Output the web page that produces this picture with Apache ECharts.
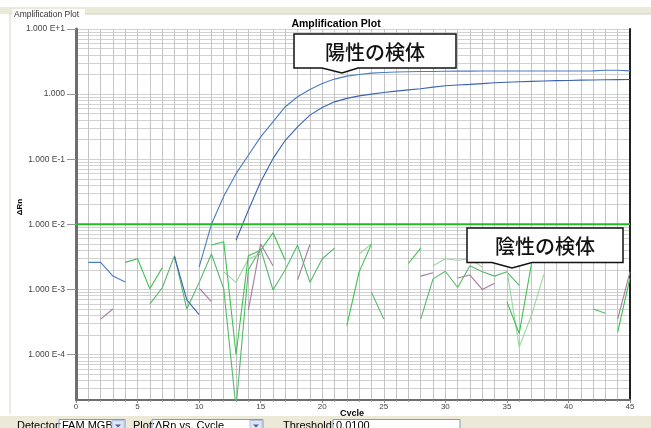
<!DOCTYPE html>
<html>
<head>
<meta charset="utf-8">
<script src="https://cdn.jsdelivr.net/npm/echarts@6/dist/echarts.min.js"></script>
<style>
  html, body { margin: 0; padding: 0; background: #ffffff; }
  #chart { width: 651px; height: 428px; }
</style>
</head>
<body>
<div id="chart"></div>
<script>
// PCR cycles (x axis)
const cycles = [1, 2, 3, 4, 5, 6, 7, 8, 9, 10, 11, 12, 13, 14, 15, 16, 17, 18, 19, 20,
  21, 22, 23, 24, 25, 26, 27, 28, 29, 30, 31, 32, 33, 34, 35, 36, 37, 38, 39, 40,
  41, 42, 43, 44, 45];

// ΔRn per cycle; null = no positive value (nothing drawn on a log axis)
const positiveA = [2.6e-3, 2.6e-3, 1.6e-3, 1.3e-3, null, null, null, null, null, 2.2e-3,
  0.010, 0.027, 0.060, 0.115, 0.22, 0.375, 0.64, 0.91, 1.18, 1.46,
  1.70, 1.89, 2.00, 2.10, 2.15, 2.18, 2.20, 2.22, 2.23, 2.24,
  2.25, 2.25, 2.26, 2.26, 2.26, 2.26, 2.26, 2.26, 2.26, 2.26,
  2.26, 2.27, 2.32, 2.33, 2.27];

const positiveB = [null, null, null, null, null, null, null, 3.2e-3, 6.9e-4, 4.1e-4,
  null, null, 5.7e-3, 0.0164, 0.045, 0.102, 0.195, 0.314, 0.475, 0.624,
  0.76, 0.86, 0.94, 1.00, 1.06, 1.11, 1.16, 1.21, 1.28, 1.34,
  1.38, 1.41, 1.45, 1.49, 1.52, 1.55, 1.57, 1.59, 1.61, 1.62,
  1.64, 1.65, 1.66, 1.67, 1.68];

const negative1 = [null, null, null, 2.6e-3, 2.96e-3, 1.02e-3, 2.15e-3, null, null, null,
  4.8e-3, 5.4e-3, 1.0e-4, 3.3e-3, 4.0e-3, 7.4e-3, 2.8e-3, null, null, null,
  null, 2.8e-4, 1.86e-3, 5.0e-3, null, null, 2.5e-3, 4.3e-3, null, null,
  null, null, null, null, 6.5e-4, 2.1e-4, 2.5e-3, null, null, null,
  null, null, null, 2.2e-4, 1.5e-3];

const negative2 = [null, null, null, null, null, 6.0e-4, 1.05e-3, 3.3e-3, 5.0e-4, 1.27e-3,
  3.5e-3, 1.02e-3, 1.5e-5, 2.0e-3, 4.2e-3, 9.8e-4, 2.0e-3, 4.8e-3, 1.28e-3, 2.96e-3,
  4.3e-3, null, null, 9.0e-4, 3.5e-4, null, null, 3.5e-4, 1.45e-3, 1.9e-3,
  1.07e-3, 2.3e-3, 1.86e-3, 1.6e-3, 1.86e-3, 1.15e-3, null, null, null, null,
  null, 5.0e-4, 4.3e-4, null, null];

const negative3 = [null, null, null, null, null, null, null, null, null, null,
  null, 1.86e-3, 1.28e-3, 2.96e-3, 3.5e-3, null, null, null, null, null,
  null, null, 3.5e-3, 5.0e-3, null, null, null, null, 2.3e-3, 2.96e-3,
  2.8e-3, 2.96e-3, 2.2e-3, null, 2.0e-3, 1.3e-4, 4.0e-4, 1.7e-3, null, null,
  null, null, null, null, null];

const negative4 = [null, 3.5e-4, 5.0e-4, null, null, null, null, null, null, 1.05e-3,
  6.5e-4, null, null, 4.8e-4, 5.0e-3, 2.3e-3, null, 1.4e-3, 4.9e-3, null,
  null, null, null, null, null, null, null, 1.6e-3, 1.8e-3, null,
  1.5e-3, 1.66e-3, 1.0e-3, 1.24e-3, null, null, null, null, null, null,
  null, null, null, 3.5e-4, 1.86e-3];

const threshold = 0.0100;

// axis ticks
const yDecades = [1e-4, 1e-3, 1e-2, 1e-1, 1, 10];
const yMin = 2e-5;
const yMax = 10;
const xMax = 45;
const xStep = 5;

const log10 = v => Math.log10(v);

// every horizontal grid line of the log scale: 1..9 × 10^n
const yGridValues = [];
for (let e = -5; e <= 1; e++) {
  for (let k = 1; k <= 9; k++) {
    const v = log10(k * Math.pow(10, e));
    if (v >= log10(yMin) - 1e-9 && v <= log10(yMax) + 1e-9) yGridValues.push(v);
  }
}

function pairs(values) {
  return cycles.map((c, i) => [c, values[i] == null ? '-' : log10(values[i])]);
}

function decadeLabel(v) {
  const e = Math.round(v);
  if (e === 0) return '1.000';
  return '1.000 E' + (e > 0 ? '+' + e : String(e));
}

const curves = [
  { name: 'negative2', data: negative2, color: '#56b86c' },
  { name: 'negative3', data: negative3, color: '#97d8a0' },
  { name: 'negative4', data: negative4, color: '#a77a9e' },
  { name: 'negative1', data: negative1, color: '#3cc24e' },
  { name: 'positiveB', data: positiveB, color: '#3a64b2' },
  { name: 'positiveA', data: positiveA, color: '#4a7cc2' }
];

const series = curves.map(c => ({
  name: c.name,
  type: 'line',
  xAxisIndex: 0,
  yAxisIndex: 0,
  data: pairs(c.data),
  symbol: 'none',
  connectNulls: false,
  clip: true,
  lineStyle: { color: c.color, width: 1.1 },
  animation: false,
  silent: true
}));

series.push({
  name: 'threshold',
  type: 'line',
  xAxisIndex: 0,
  yAxisIndex: 0,
  data: [[0, log10(threshold)], [xMax, log10(threshold)]],
  symbol: 'none',
  lineStyle: { color: '#22bb22', width: 2 },
  animation: false,
  silent: true,
  z: 5
});

const uiFont = '"Liberation Sans", Arial, sans-serif';

function callout(x0, x1, y0, y1, nl, tipX, nr, tipY, text) {
  return [
    {
      type: 'polygon',
      shape: { points: [[x0, y0], [x1, y0], [x1, y1], [nr, y1], [tipX, tipY], [nl, y1], [x0, y1]] },
      style: { fill: '#ffffff', stroke: '#111111', lineWidth: 1.5 },
      z: 100
    },
    {
      type: 'text',
      x: (x0 + x1) / 2, y: (y0 + y1) / 2 + 1,
      style: {
        text: text, fill: '#111111',
        font: '500 20px "Noto Sans CJK JP", sans-serif',
        textAlign: 'center', textVerticalAlign: 'middle'
      },
      z: 101
    }
  ];
}

function dropField(x0, x1, label, arrow) {
  const out = [
    { type: 'rect', shape: { x: x0, y: 419.5, width: x1 - x0, height: 14 },
      style: { fill: '#ffffff', stroke: '#7f9db9', lineWidth: 1 }, z: 50 },
    { type: 'text', x: x0 + 3, y: 420,
      style: { text: label, fill: '#000000', font: '11px ' + uiFont, textVerticalAlign: 'top' }, z: 51 }
  ];
  if (arrow) {
    out.push({ type: 'rect', shape: { x: x1 - 13, y: 420.5, width: 12, height: 12 },
      style: { fill: '#dde6f7', stroke: '#b0c0e0', lineWidth: 1 }, z: 51 });
    out.push({ type: 'polygon', shape: { points: [[x1 - 10, 424.5], [x1 - 4, 424.5], [x1 - 7, 427.5]] },
      style: { fill: '#4d6185' }, z: 52 });
  }
  return out;
}

const graphics = [
  // window chrome
  { type: 'rect', shape: { x: 0, y: 7, width: 651, height: 7 }, style: { fill: '#ece9d8' }, z: -10 },
  { type: 'line', shape: { x1: 10, y1: 14, x2: 651, y2: 14 }, style: { stroke: '#d0d0bf', lineWidth: 1 }, z: -9 },
  { type: 'line', shape: { x1: 10, y1: 14, x2: 10, y2: 414 }, style: { stroke: '#d8d8cc', lineWidth: 1 }, z: -9 },
  { type: 'rect', shape: { x: 12, y: 9, width: 73, height: 10 }, style: { fill: '#ffffff' }, z: -8 },
  { type: 'text', x: 14, y: 14.5,
    style: { text: 'Amplification Plot', fill: '#333333', font: '8.5px ' + uiFont, textVerticalAlign: 'middle' }, z: 2 },
  { type: 'text', x: 336, y: 24.5,
    style: { text: 'Amplification Plot', fill: '#000000', font: 'bold 10.5px ' + uiFont,
      textAlign: 'center', textVerticalAlign: 'middle' }, z: 2 },
  { type: 'text', x: 20, y: 207, rotation: Math.PI / 2,
    style: { text: 'ΔRn', fill: '#000000', font: 'bold 8px ' + uiFont,
      textAlign: 'center', textVerticalAlign: 'middle' }, z: 2 },
  { type: 'text', x: 352, y: 414,
    style: { text: 'Cycle', fill: '#000000', font: 'bold 9px ' + uiFont,
      textAlign: 'center', textVerticalAlign: 'middle' }, z: 2 },
  // control bar
  { type: 'rect', shape: { x: 0, y: 416, width: 651, height: 12 }, style: { fill: '#ece9d8' }, z: 40 },
  { type: 'text', x: 17, y: 420,
    style: { text: 'Detector:', fill: '#000000', font: '11px ' + uiFont, textVerticalAlign: 'top' }, z: 51 },
  ...dropField(59, 125, 'FAM MGB', true),
  { type: 'text', x: 133, y: 420,
    style: { text: 'Plot:', fill: '#000000', font: '11px ' + uiFont, textVerticalAlign: 'top' }, z: 51 },
  ...dropField(152, 263, 'ΔRn vs. Cycle', true),
  { type: 'text', x: 283, y: 420,
    style: { text: 'Threshold:', fill: '#000000', font: '11px ' + uiFont, textVerticalAlign: 'top' }, z: 51 },
  ...dropField(333, 460, '0.0100', false),
  // annotations
  ...callout(294, 456, 34, 68, 322, 342, 358, 73, '陽性の検体'),
  ...callout(467, 623, 228, 262.5, 492, 512, 532, 268, '陰性の検体')
];

const chart = echarts.init(document.getElementById('chart'), null, { renderer: 'canvas' });
chart.setOption({
  animation: false,
  backgroundColor: '#ffffff',
  grid: { left: 76, right: 21, top: 29, bottom: 28, containLabel: false },
  xAxis: {
    type: 'value',
    min: 0,
    max: xMax,
    interval: xStep,
    axisLine: { show: true, onZero: false, lineStyle: { color: '#6e6e6e', width: 2 } },
    axisTick: { show: true, length: 3, lineStyle: { color: '#888888' } },
    minorTick: { show: true, splitNumber: 5, length: 2, lineStyle: { color: '#999999' } },
    axisLabel: { fontSize: 8, color: '#444444', margin: 3, fontFamily: uiFont },
    splitLine: { show: true, lineStyle: { color: '#c4c4c4', width: 1 } },
    minorSplitLine: { show: true, lineStyle: { color: '#c4c4c4', width: 1 } }
  },
  yAxis: [
    {
      type: 'value',
      min: log10(yMin),
      max: log10(yMax),
      position: 'left',
      axisLine: { show: true, onZero: false, lineStyle: { color: '#6e6e6e', width: 3 } },
      axisTick: { show: false, customValues: yGridValues },
      axisLabel: {
        show: true, customValues: yDecades.map(log10), align: 'right',
        formatter: decadeLabel, fontSize: 8.5, color: '#444444', margin: 11, fontFamily: uiFont
      },
      splitLine: { show: true, lineStyle: { color: '#d2d2d2', width: 1 } }
    },
    {
      type: 'value',
      min: log10(yMin),
      max: log10(yMax),
      position: 'left',
      axisLine: { show: false, onZero: false },
      axisTick: { show: true, length: 9, customValues: yDecades.map(log10), lineStyle: { color: '#999999' } },
      axisLabel: { show: false },
      splitLine: { show: false }
    },
    {
      type: 'value',
      min: log10(yMin),
      max: log10(yMax),
      position: 'right',
      axisLine: { show: true, onZero: false, lineStyle: { color: '#222222', width: 2 } },
      axisTick: { show: false },
      axisLabel: { show: false },
      splitLine: { show: false }
    }
  ],
  series: series,
  graphic: graphics
});
</script>
</body>
</html>
